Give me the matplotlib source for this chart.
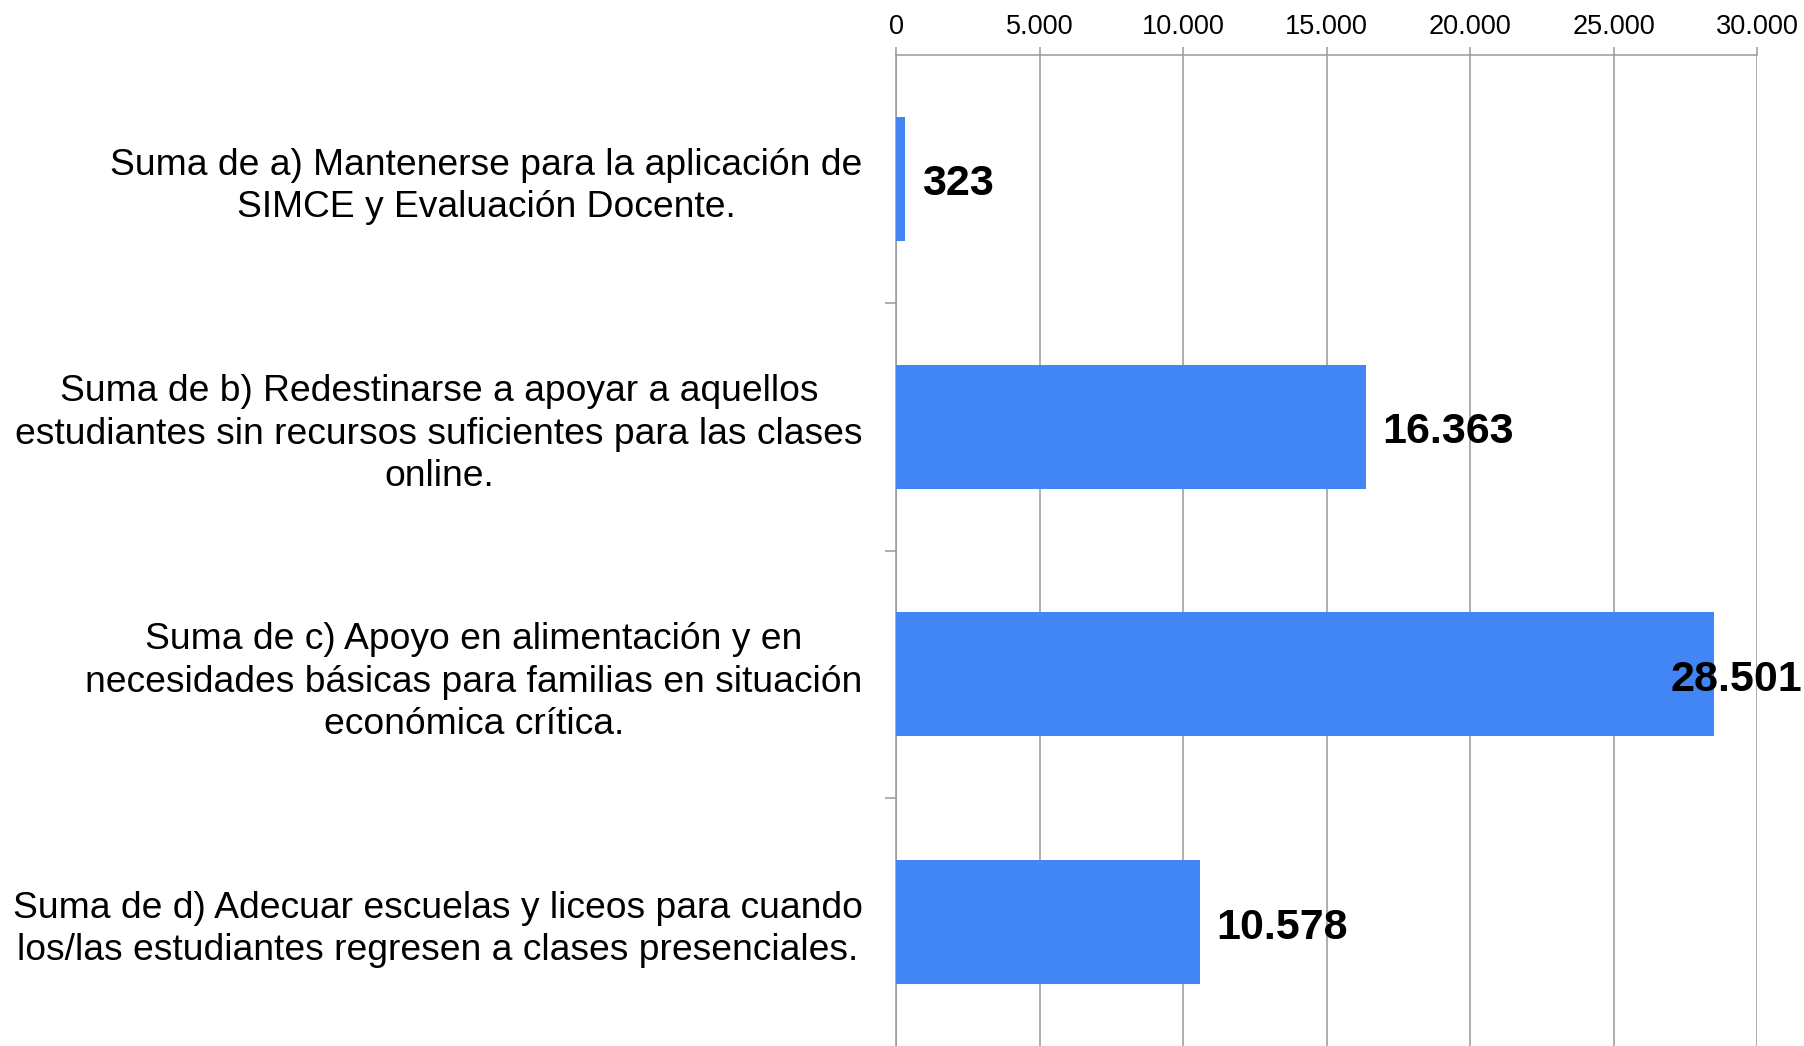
import numpy as np
import matplotlib.pyplot as plt
from matplotlib.ticker import FuncFormatter, FixedLocator
from matplotlib.transforms import blended_transform_factory, offset_copy

categories = [
    "Suma de a) Mantenerse para la aplicación de\nSIMCE y Evaluación Docente.",
    "Suma de b) Redestinarse a apoyar a aquellos\nestudiantes sin recursos suficientes para las clases\nonline.",
    "Suma de c) Apoyo en alimentación y en\nnecesidades básicas para familias en situación\neconómica crítica.",
    "Suma de d) Adecuar escuelas y liceos para cuando\nlos/las estudiantes regresen a clases presenciales.",
]
values = [323, 16363, 28501, 10578]
value_labels = ["323", "16.363", "28.501", "10.578"]
x_ticks = [0, 5000, 10000, 15000, 20000, 25000, 30000]

plt.rcParams['font.family'] = ['Liberation Sans', 'DejaVu Sans']

fig = plt.figure(figsize=(18.04, 10.46), dpi=100)
ax = fig.add_axes([0.4967, 0.0, 0.974 - 0.4967, 0.9474])

y = np.arange(len(categories))
ax.barh(y, values, height=0.5, color='#4285F4', zorder=3)

ax.set_xlim(0, 30000)
ax.set_ylim(len(categories) - 0.5, -0.5)

# grid / axes styling
grid_col = '#999999'
ax.xaxis.tick_top()
ax.xaxis.set_major_locator(FixedLocator(x_ticks))
ax.xaxis.set_major_formatter(FuncFormatter(lambda v, p: f"{int(v):,}".replace(",", ".")))
ax.grid(axis='x', color=grid_col, linewidth=1.1, zorder=0)
ax.tick_params(axis='x', which='major', direction='out', length=6, width=1.1,
               color=grid_col, pad=4.5, labelsize=19.5)

ax.set_yticks(y)
ax.set_yticklabels(categories, fontsize=26.8, multialignment='center', linespacing=1.27)
ax.set_yticks(np.arange(0.5, len(categories) - 0.5, 1.0), minor=True)
ax.tick_params(axis='y', which='major', length=0, pad=24)
ax.tick_params(axis='y', which='minor', direction='out', length=8, width=1.1, color=grid_col)

for side in ['right', 'bottom']:
    ax.spines[side].set_visible(False)
for side in ['top', 'left']:
    ax.spines[side].set_color(grid_col)
    ax.spines[side].set_linewidth(1.1)

# value labels
trans = blended_transform_factory(fig.transFigure, ax.transData)
trans = offset_copy(trans, fig=fig, y=-4, units='points')
for yi, v, lab in zip(y, values, value_labels):
    if v > 0.9 * 30000:
        ax.text(0.999, yi, lab, transform=trans, ha='right', va='center',
                fontsize=31, fontweight='bold', zorder=4)
    else:
        ax.annotate(lab, (v, yi), xytext=(12, -4), textcoords='offset points',
                    ha='left', va='center', fontsize=31, fontweight='bold', zorder=4)

fig.savefig('out.png', dpi=100)
